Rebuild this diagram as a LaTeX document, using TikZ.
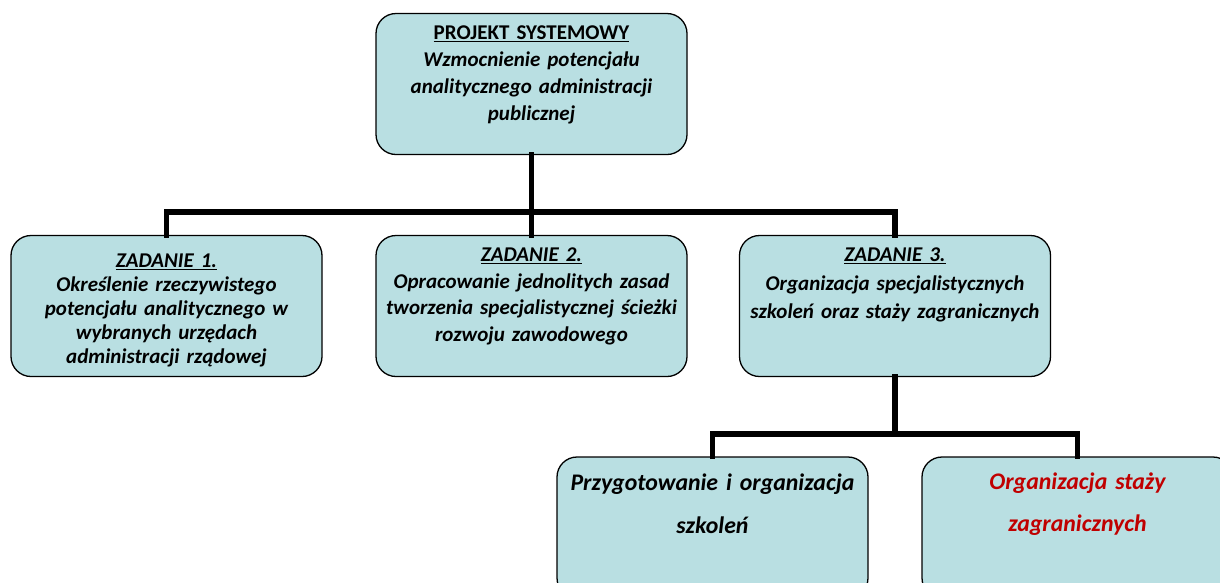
\documentclass[tikz,border=0pt]{standalone}
\usepackage{fontspec}
\setmainfont[WordSpace=0.8]{Carlito}
\usetikzlibrary{calc}
\definecolor{boxfill}{HTML}{B9DFE2}
\definecolor{redtxt}{HTML}{C00000}
\tikzset{
  box/.style={draw=black, line width=1.3pt, fill=boxfill, rounded corners=20pt,
    minimum width=311pt, minimum height=141pt, inner sep=0pt},
  txt/.style={anchor=north, inner sep=0pt, align=center, text width=309pt},
  conn/.style={draw=black, line width=5.5pt, line cap=rect, line join=miter}
}
\begin{document}
\begin{tikzpicture}[x=1pt,y=-1pt]
\useasboundingbox (0,0) rectangle (1220,582);
\clip (0,0) rectangle (1220,582);
% boxes
\node[box] (top) at (531.5,84) {};
\node[box] (z1) at (166.5,306) {};
\node[box] (z2) at (531.5,306) {};
\node[box] (z3) at (895,306) {};
\node[box] (b1) at (712.5,527.5) {};
\node[box] (b2) at (1077.5,527.5) {};
% junctions
\coordinate (j1) at ($(top.south)+(0,57)$);
\coordinate (j2) at ($(z3.south)+(0,57)$);
% connectors
\draw[conn] (top.south) -- (z2.north);
\draw[conn] (z1.north) |- (j1) -| (z3.north);
\draw[conn] (z3.south) -- (j2);
\draw[conn] (b1.north) |- (j2) -| (b2.north);
% texts
\node[txt, font=\fontsize{21}{27}\selectfont\bfseries] (ttop) at ($(top.north)+(0,13)$)
  {\underline{PROJEKT SYSTEMOWY}\\ \itshape Wzmocnienie potencjału\\ \itshape analitycznego administracji\\ \itshape publicznej};
\node[txt, font=\fontsize{21}{24}\selectfont\bfseries\itshape] (tz1) at ($(z1.north)+(0,19)$)
  {\underline{ZADANIE 1.}\\ Określenie rzeczywistego\\ potencjału analitycznego w\\ wybranych urzędach\\ administracji rządowej};
\node[txt, font=\fontsize{21}{26.5}\selectfont\bfseries\itshape] (tz2) at ($(z2.north)+(0,13)$)
  {\underline{ZADANIE 2.}\\ Opracowanie jednolitych zasad\\ tworzenia specjalistycznej ścieżki\\ rozwoju zawodowego};
\node[txt, font=\fontsize{21}{28.5}\selectfont\bfseries\itshape] (tz3) at ($(z3.north)+(0,13)$)
  {\underline{ZADANIE 3.}\\ Organizacja specjalistycznych\\ szkoleń oraz staży zagranicznych};
\node[txt, font=\fontsize{23.8}{43}\selectfont\bfseries\itshape] (tb1) at ($(b1.north)+(0,17)$)
  {Przygotowanie i organizacja\\ szkoleń};
\node[txt, font=\fontsize{23.8}{42}\selectfont\bfseries\itshape, text=redtxt] (tb2) at ($(b2.north)+(0,16)$)
  {Organizacja staży\\ zagranicznych};
\end{tikzpicture}
\end{document}
